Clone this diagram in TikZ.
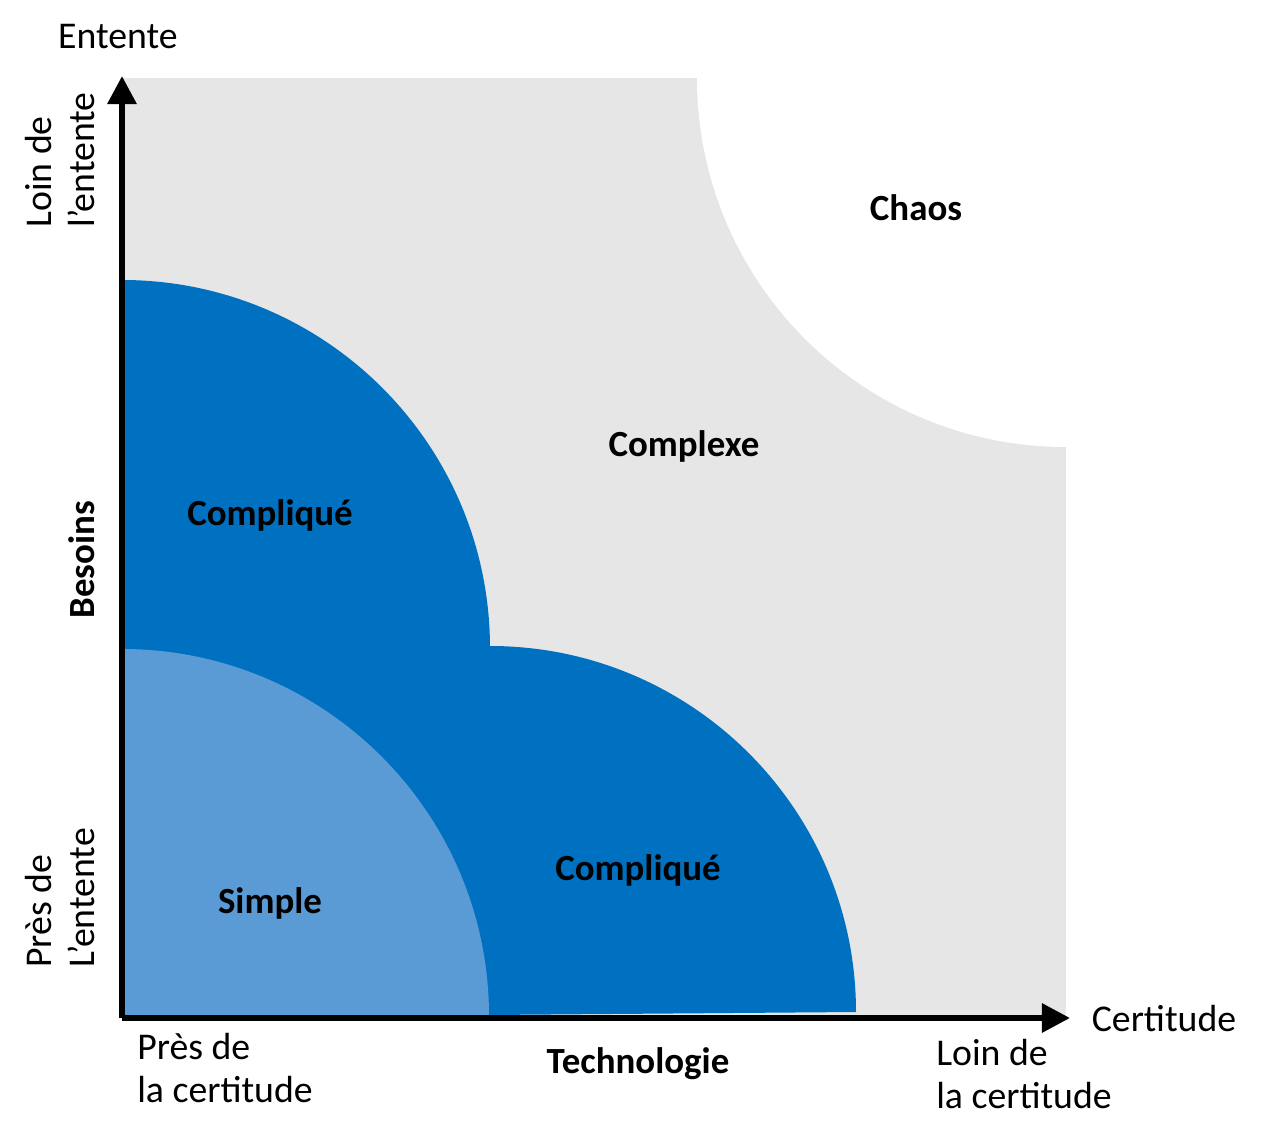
\documentclass[tikz,border=0pt]{standalone}
\usepackage{fontspec}
\setmainfont{Carlito}
\usetikzlibrary{arrows.meta}
\definecolor{zonegray}{RGB}{230,230,230}
\definecolor{zoneblue}{RGB}{0,112,192}
\definecolor{zonelight}{RGB}{91,155,213}
\tikzset{
  axis/.style={line width=3.4pt,-{Triangle[length=16pt,width=16pt]}},
  lbl/.style={font=\fontsize{21.5}{25}\selectfont,align=left},
  zone/.style={font=\fontsize{21}{25}\selectfont\bfseries}
}
\begin{document}
\begin{tikzpicture}[x=0.02cm,y=-0.02cm]
\useasboundingbox (0,0) rectangle (1262,1142);
% zones
\fill[zonegray] (122,78) rectangle (1066,1018);
\fill[white] (697,78) arc[start angle=180,end angle=90,radius=369] -- (1066,78) -- cycle;
\fill[zoneblue] (122,1018) -- (122,280) arc[start angle=270,end angle=360,radius=368]
  -- (490,646) arc[start angle=270,end angle=360,radius=366] -- cycle;
\fill[zonelight] (122,1018) -- (122,649) arc[start angle=270,end angle=360,radius=367] -- cycle;
% axes
\coordinate (origin) at (122,1018);
\coordinate (ytop) at (122,76);
\coordinate (xend) at (1070,1018);
\draw[axis] (origin) -- (ytop);
\draw[axis] (origin) -- (xend);
% labels
\node[lbl] (entente) at (118,37) {Entente};
\node[lbl] (certitude) at (1164,1019) {Certitude};
\node[lbl,rotate=90] (loin1) at (60,160) {Loin de\\l’entente};
\node[lbl,rotate=90] (pres1) at (60,898) {Près de\\L’entente};
\node[lbl] (pres2) at (225,1068) {Près de\\la certitude};
\node[lbl] (loin2) at (1024,1074) {Loin de\\la certitude};
\node[zone,rotate=90] (besoins) at (82,560) {Besoins};
\node[zone] (techno) at (638,1064) {Technologie};
% zone names
\node[zone] (chaos) at (916,208) {Chaos};
\node[zone] (complexe) at (684,446) {Complexe};
\node[zone] (complique1) at (270,515) {Compliqué};
\node[zone] (complique2) at (638,870) {Compliqué};
\node[zone] (simple) at (270,903) {Simple};
\end{tikzpicture}
\end{document}
